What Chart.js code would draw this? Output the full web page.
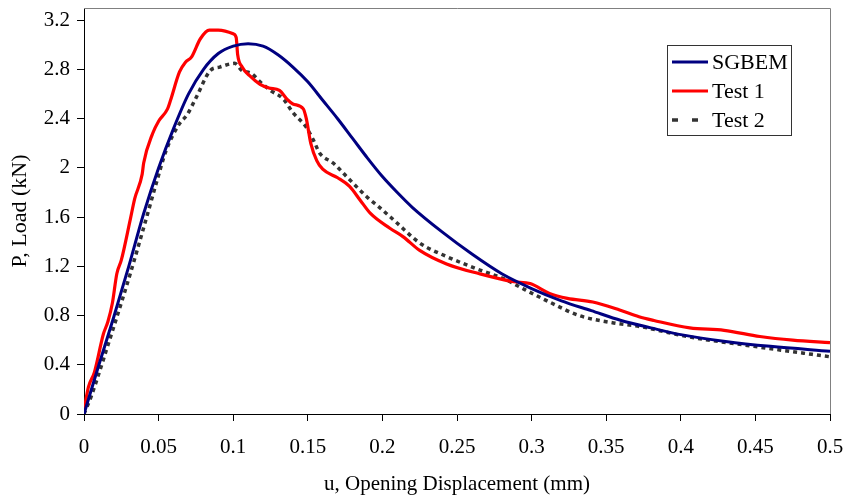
<!doctype html>
<html lang="en">

<head>
    <meta charset="utf-8">
    <title>Load vs Opening Displacement</title>
    <style>
        * {
            margin: 0;
            padding: 0;
        }

        body {
            background: white;
        }

        .chartBox {
            width: 845px;
            height: 501px;
        }
    </style>
</head>

<body>
    <div class="chartBox">
        <canvas id="myChart"></canvas>
    </div>

    <script src="https://cdn.jsdelivr.net/npm/chart.js"></script>

    <script>
        // opening displacement u (mm) and load P (kN) for each curve
        const sgbemU = [0, 0.01, 0.02, 0.03, 0.04, 0.05, 0.06, 0.07, 0.08, 0.09, 0.1, 0.11, 0.12, 0.13, 0.14, 0.15,
            0.16, 0.17, 0.18, 0.19, 0.2, 0.21, 0.22, 0.24, 0.26, 0.28, 0.3, 0.32, 0.34, 0.36, 0.38, 0.4, 0.43, 0.46, 0.5];
        const sgbemP = [0, 0.40, 0.79, 1.20, 1.63, 2.00, 2.32, 2.60, 2.80, 2.93, 2.99, 3.01, 2.99, 2.92, 2.82, 2.70,
            2.55, 2.40, 2.24, 2.08, 1.93, 1.80, 1.68, 1.48, 1.30, 1.14, 1.02, 0.92, 0.84, 0.76, 0.70, 0.645, 0.59, 0.55, 0.51];

        const test1U = [0, 0.003, 0.007, 0.013, 0.016, 0.019, 0.022, 0.025, 0.031, 0.034, 0.039, 0.040, 0.046, 0.050,
            0.056, 0.058, 0.064, 0.068, 0.072, 0.078, 0.084, 0.090, 0.100, 0.102, 0.103, 0.106, 0.111, 0.118, 0.124,
            0.131, 0.136, 0.140, 0.147, 0.149, 0.152, 0.156, 0.160, 0.170, 0.178, 0.185, 0.192, 0.205, 0.214, 0.225,
            0.243, 0.265, 0.288, 0.299, 0.312, 0.324, 0.341, 0.359, 0.372, 0.382, 0.406, 0.429, 0.453, 0.475, 0.5];
        const test1P = [0.03, 0.22, 0.34, 0.65, 0.75, 0.90, 1.14, 1.25, 1.58, 1.75, 1.95, 2.04, 2.28, 2.38,
            2.48, 2.55, 2.78, 2.86, 2.90, 3.05, 3.12, 3.12, 3.09, 3.06, 2.92, 2.82, 2.75, 2.68, 2.65,
            2.63, 2.56, 2.52, 2.48, 2.40, 2.20, 2.06, 1.99, 1.92, 1.85, 1.74, 1.63, 1.51, 1.44, 1.33,
            1.22, 1.14, 1.075, 1.06, 0.98, 0.94, 0.91, 0.845, 0.79, 0.76, 0.70, 0.68, 0.63, 0.60, 0.58];

        const test2U = [0, 0.005, 0.010, 0.015, 0.020, 0.031, 0.042, 0.049, 0.055, 0.064, 0.069, 0.0755, 0.0845,
            0.091, 0.101, 0.106, 0.112, 0.118, 0.125, 0.1336, 0.140, 0.149, 0.154, 0.158, 0.167, 0.176, 0.190,
            0.198, 0.210, 0.225, 0.243, 0.261, 0.283, 0.294, 0.312, 0.332, 0.355, 0.373, 0.404, 0.449, 0.5];
        const test2P = [0, 0.15, 0.33, 0.52, 0.71, 1.14, 1.60, 1.90, 2.14, 2.36, 2.43, 2.58, 2.79,
            2.82, 2.85, 2.79, 2.77, 2.70, 2.63, 2.56, 2.45, 2.33, 2.22, 2.12, 2.04, 1.93, 1.76,
            1.68, 1.55, 1.39, 1.28, 1.19, 1.09, 1.02, 0.91, 0.80, 0.74, 0.71, 0.63, 0.55, 0.465];

        const seriesNames = ['SGBEM', 'Test 1', 'Test 2'];

        // axis ticks
        const uTicks = [0, 0.05, 0.1, 0.15, 0.2, 0.25, 0.3, 0.35, 0.4, 0.45, 0.5];
        const pTicks = [0, 0.4, 0.8, 1.2, 1.6, 2, 2.4, 2.8, 3.2];

        const toPoints = (us, ps) => us.map((u, i) => ({ x: u, y: ps[i] }));

        const serif = 'Liberation Serif, Times New Roman, serif';

        // gray frame on the top and right of the plot, legend box in the corner
        const framePlugin = {
            id: 'frame',
            afterDraw(chart) {
                const { ctx, chartArea: a } = chart;
                ctx.save();
                ctx.strokeStyle = '#808080';
                ctx.lineWidth = 1;
                ctx.beginPath();
                ctx.moveTo(a.left, a.top + 0.5);
                ctx.lineTo(a.right + 0.5, a.top + 0.5);
                ctx.lineTo(a.right + 0.5, a.bottom);
                ctx.stroke();

                // legend
                const bx = 667, by = 45, bw = 124, bh = 90;
                ctx.fillStyle = 'white';
                ctx.fillRect(bx, by, bw, bh);
                ctx.strokeStyle = '#333';
                ctx.strokeRect(bx + 0.5, by + 0.5, bw, bh);
                ctx.font = '22px ' + serif;
                ctx.textBaseline = 'middle';
                chart.data.datasets.forEach((ds, i) => {
                    const ry = by + 17 + i * 29;
                    ctx.strokeStyle = ds.borderColor;
                    ctx.lineWidth = ds.borderWidth;
                    ctx.setLineDash(ds.borderDash ? [6, 14] : []);
                    ctx.beginPath();
                    ctx.moveTo(672, ry);
                    ctx.lineTo(708, ry);
                    ctx.stroke();
                    ctx.setLineDash([]);
                    ctx.fillStyle = 'black';
                    ctx.fillText(ds.label, 712, ry + 1);
                });
                ctx.restore();
            }
        };

        const data = {
            datasets: [{
                label: seriesNames[0],
                data: toPoints(sgbemU, sgbemP),
                borderColor: '#000080',
                borderWidth: 3,
                pointRadius: 0,
                cubicInterpolationMode: 'monotone'
            }, {
                label: seriesNames[1],
                data: toPoints(test1U, test1P),
                borderColor: '#FF0000',
                borderWidth: 3.2,
                pointRadius: 0,
                cubicInterpolationMode: 'monotone'
            }, {
                label: seriesNames[2],
                data: toPoints(test2U, test2P),
                borderColor: '#333333',
                borderWidth: 3.5,
                borderDash: [4, 4],
                borderCapStyle: 'butt',
                pointRadius: 0,
                cubicInterpolationMode: 'monotone'
            }]
        };

        const config = {
            type: 'line',
            data,
            plugins: [framePlugin],
            options: {
                responsive: false,
                animation: false,
                events: [],
                layout: {
                    padding: { left: 0, right: 15, top: 8, bottom: 0 }
                },
                plugins: {
                    legend: { display: false },
                    tooltip: { enabled: false }
                },
                scales: {
                    x: {
                        type: 'linear',
                        min: 0,
                        max: 0.5,
                        afterBuildTicks: (scale) => { scale.ticks = uTicks.map(v => ({ value: v })); },
                        afterFit: (scale) => {
                            scale.height = 87;
                            scale.paddingLeft = 0;
                            scale.paddingRight = 0;
                        },
                        border: { color: 'black', width: 1 },
                        grid: { drawOnChartArea: false, tickLength: 7, color: 'black' },
                        ticks: {
                            padding: 14,
                            color: 'black',
                            maxRotation: 0,
                            autoSkip: false,
                            font: { family: serif, size: 21 },
                            callback: (v) => String(parseFloat(v.toFixed(2)))
                        },
                        title: {
                            display: true,
                            text: 'u, Opening Displacement (mm)',
                            color: 'black',
                            font: { family: serif, size: 21 },
                            padding: { top: 0, bottom: 4 }
                        }
                    },
                    y: {
                        min: 0,
                        max: 3.3,
                        afterBuildTicks: (scale) => { scale.ticks = pTicks.map(v => ({ value: v })); },
                        afterFit: (scale) => {
                            scale.width = 84;
                            scale.paddingTop = 0;
                            scale.paddingBottom = 0;
                        },
                        border: { color: 'black', width: 1 },
                        grid: { drawOnChartArea: false, tickLength: 7, color: 'black' },
                        ticks: {
                            padding: 7,
                            color: 'black',
                            autoSkip: false,
                            font: { family: serif, size: 21 },
                            callback: (v) => String(parseFloat(v.toFixed(1)))
                        },
                        title: {
                            display: true,
                            text: 'P, Load (kN)',
                            color: 'black',
                            font: { family: serif, size: 22 },
                            padding: { top: 7, bottom: 0 }
                        }
                    }
                }
            }
        };

        const canvas = document.getElementById('myChart');
        canvas.width = 845;
        canvas.height = 501;
        const myChart = new Chart(canvas, config);
    </script>

</body>

</html>
